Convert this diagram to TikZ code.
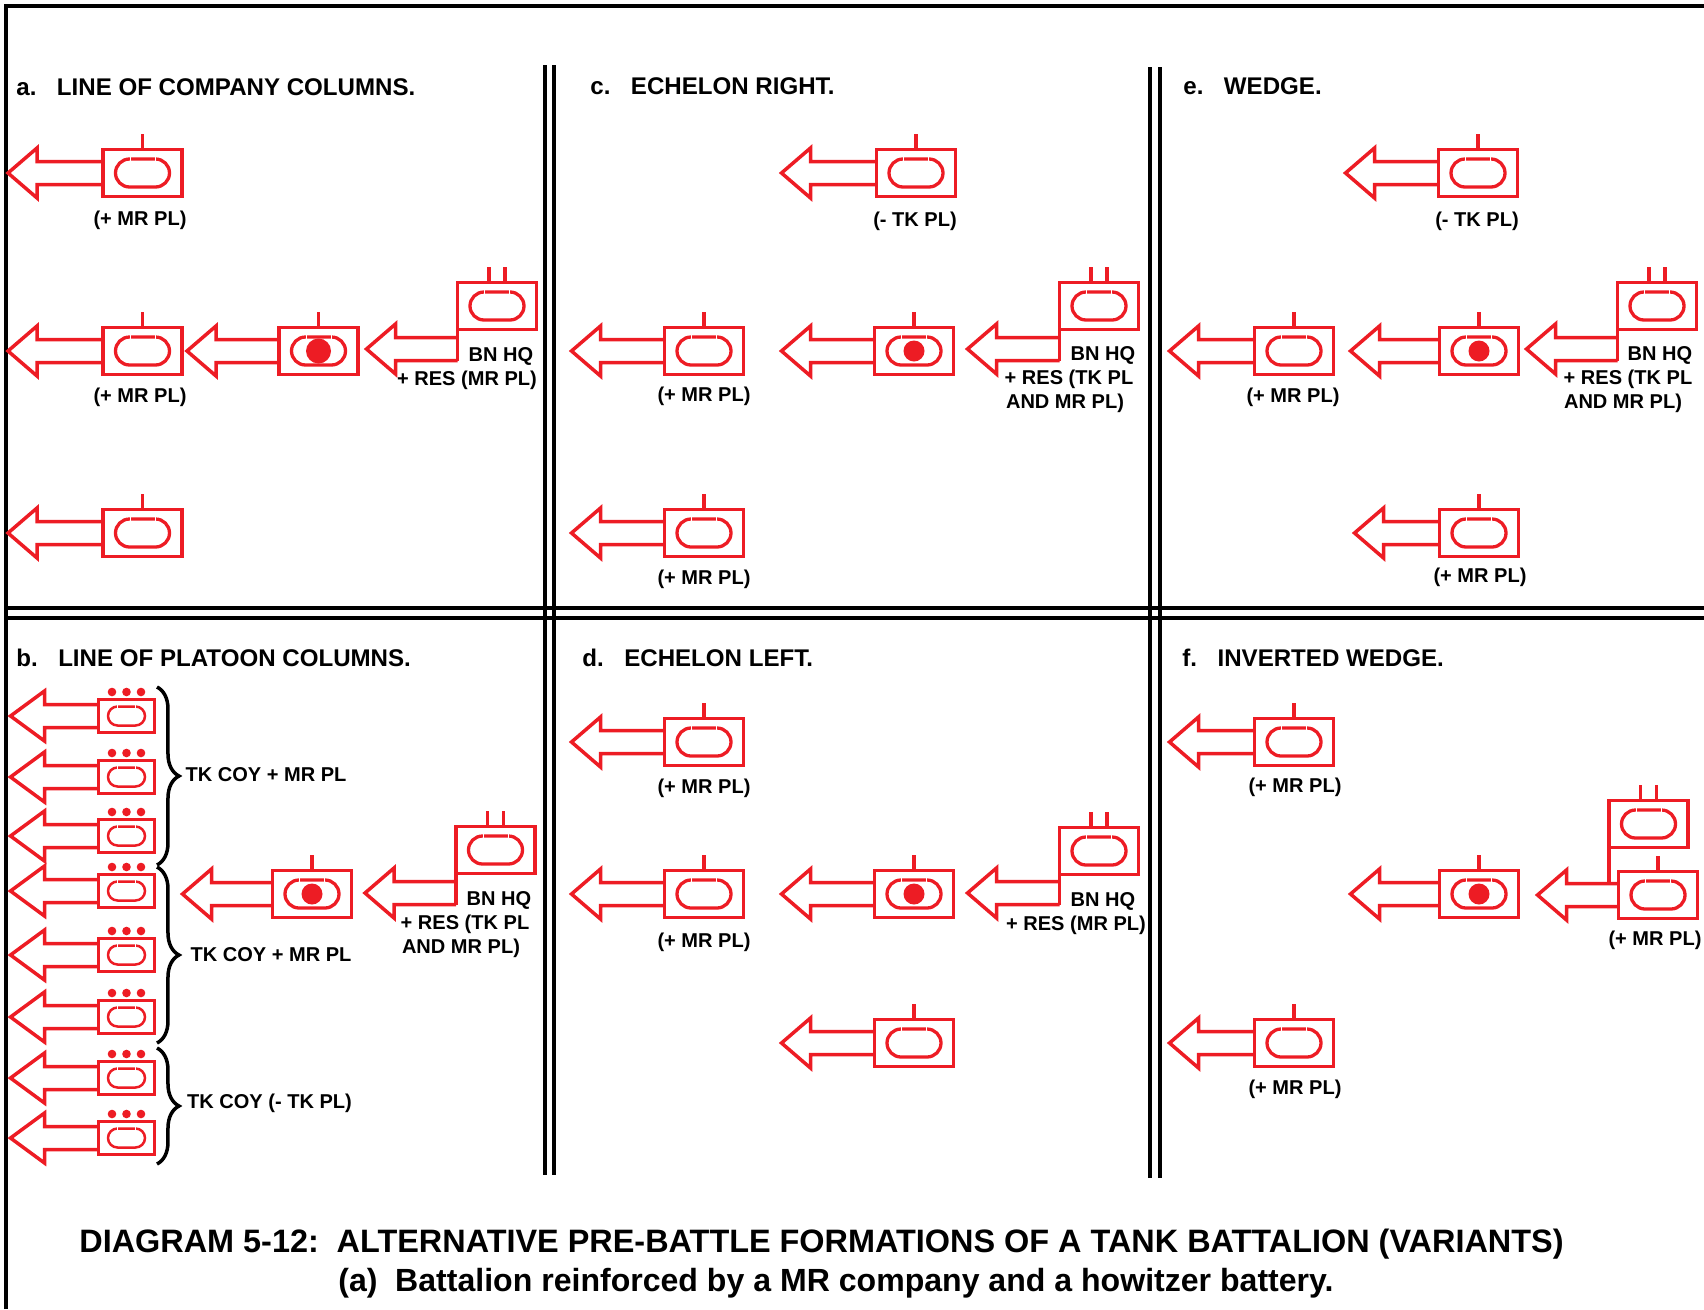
\documentclass[tikz,border=0pt]{standalone}
\usepackage{xcolor}
\usepackage{fontspec}
\setmainfont{Liberation Sans}
\usetikzlibrary{calc,decorations.pathreplacing}
\definecolor{tankred}{RGB}{237,28,36}
\newcommand{\lblfont}{\fontsize{11.4}{14.4}\selectfont\bfseries}
\newcommand{\headfont}{\fontsize{13.72}{16}\selectfont\bfseries}
\newcommand{\capfont}{\fontsize{18.45}{22}\selectfont\bfseries}
\newcommand{\capfontb}{\fontsize{18.25}{22}\selectfont\bfseries}
\newcommand{\advarrow}[3][29]{\draw[advline] ($(#2)+(0,-11.5)$) -- ++(-#3+#1,0) -- ++(0,-13.5) -- ++(-#1,25) -- ++(#1,25) -- ++(0,-13.5) -- ++(#3-#1,0);}
\tikzset{
  framerule/.style={draw=black, line width=0.08cm},
  advline/.style={draw=tankred, line width=0.07cm, miter limit=10},
  tankbox/.style={draw=tankred, line width=0.072cm, minimum width=1.58cm, minimum height=0.94cm, inner sep=0pt, outer sep=0pt},
  smallbox/.style={draw=tankred, line width=0.05cm, minimum width=1.12cm, minimum height=0.66cm, inner sep=0pt, outer sep=0pt},
  tickline/.style={draw=tankred, line width=0.062cm},
  lbl/.style={font=\lblfont, align=center, inner sep=0pt},
  headlbl/.style={font=\headfont, anchor=west, inner sep=0pt},
  capline/.style={font=\capfont, inner sep=0pt},
  bracket/.style={draw=black, line width=0.07cm, decorate, decoration={brace, amplitude=0.44cm}},
  ovalmark/.pic={
    \draw[tankred, line width=0.066cm, rounded corners=0.28cm] (-27,-14) rectangle (27,14);
    \draw[white, line width=0.01cm] (-12.5,-16) -- (-12.5,-12) (12.5,-16) -- (12.5,-12);
  },
  smalloval/.pic={
    \draw[tankred, line width=0.05cm, rounded corners=0.19cm] (-18.5,-9.5) rectangle (18.5,9.5);
    \draw[white, line width=0.008cm] (-9,-11) -- (-9,-8) (9,-11) -- (9,-8);
    \fill[tankred] (-14.5,-24) circle (4.3) (0,-24) circle (4.3) (14.5,-24) circle (4.3);
  }
}
\begin{document}
\begin{tikzpicture}[x=0.02cm, y=-0.02cm]
\useasboundingbox (0,0) rectangle (1704,1309);
\draw[framerule] (6,1309) -- (6,6) -- (1704,6);
\draw[framerule] (5,608) -- (1704,608);
\draw[framerule] (5,618) -- (1704,618);
\draw[framerule] (545,65) -- (545,1175);
\draw[framerule] (554,65) -- (554,1175);
\draw[framerule] (1150,67) -- (1150,1178);
\draw[framerule] (1160,67) -- (1160,1178);
% a
\node[headlbl] (heada) at (16,87) {a.\hspace{0.85em}LINE OF COMPANY COLUMNS.};
\node[tankbox] (a1) at (142.5,173) {};
\node[tankbox] (a2) at (142.5,351) {};
\node[tankbox] (a3) at (318.5,351) {};
\node[tankbox] (a4) at (497,306) {};
\node[tankbox] (a5) at (142.5,533) {};
\foreach \t in {a1,a2,a3,a4,a5} {\pic at (\t) {ovalmark};}
\foreach \t in {a1,a2,a3,a5} {\draw[tickline] (\t.north) -- ++(0,-16);}
\draw[tickline] ($(a4.north)+(-8,0)$) -- ++(0,-16);
\draw[tickline] ($(a4.north)+(8,0)$) -- ++(0,-16);
\fill[tankred] (a3) circle (12.5);
\coordinate (a4tail) at ($(a4.west)+(0,43)$);
\advarrow{a1.west}{95}
\advarrow{a2.west}{95}
\advarrow{a3.west}{92}
\advarrow{a4tail}{91}
\advarrow{a5.west}{95}
\draw[advline] (a4.south west) -- ($(a4tail)+(0,11.5)$);
\node[lbl] (a1note) at (140,220) {(+ MR PL)};
\node[lbl] (a2note) at (140,397) {(+ MR PL)};
\node[lbl] (a4note) at (501,356) {BN HQ};
\node[lbl] (a4res) at (467,380) {+ RES (MR PL)};
% c
\node[headlbl] (headc) at (590,86) {c.\hspace{0.85em}ECHELON RIGHT.};
\node[tankbox] (c1) at (916,173) {};
\node[tankbox] (c2) at (704,351) {};
\node[tankbox] (c3) at (914,351) {};
\node[tankbox] (c4) at (1099,306) {};
\node[tankbox] (c5) at (704,533) {};
\foreach \t in {c1,c2,c3,c4,c5} {\pic at (\t) {ovalmark};}
\foreach \t in {c1,c2,c3,c5} {\draw[tickline] (\t.north) -- ++(0,-16);}
\draw[tickline] ($(c4.north)+(-8,0)$) -- ++(0,-16);
\draw[tickline] ($(c4.north)+(8,0)$) -- ++(0,-16);
\fill[tankred] (c3) circle (10.5);
\coordinate (c4tail) at ($(c4.west)+(0,43)$);
\advarrow{c1.west}{95}
\advarrow{c2.west}{93}
\advarrow{c3.west}{93}
\advarrow{c4tail}{92}
\advarrow{c5.west}{93}
\draw[advline] (c4.south west) -- ($(c4tail)+(0,11.5)$);
\node[lbl] (c1note) at (915,221) {(- TK PL)};
\node[lbl] (c2note) at (704,396) {(+ MR PL)};
\node[lbl] (c5note) at (704,579) {(+ MR PL)};
\node[lbl] (c4note) at (1103,355) {BN HQ};
\node[lbl] (c4res) at (1069,379) {+ RES (TK PL};
\node[lbl] (c4and) at (1065,403) {AND MR PL)};
% e
\node[headlbl] (heade) at (1183,86) {e.\hspace{0.85em}WEDGE.};
\node[tankbox] (e1) at (1478,173) {};
\node[tankbox] (e2) at (1294,351) {};
\node[tankbox] (e3) at (1479,351) {};
\node[tankbox] (e4) at (1657,306) {};
\node[tankbox] (e5) at (1479,533) {};
\foreach \t in {e1,e2,e3,e4,e5} {\pic at (\t) {ovalmark};}
\foreach \t in {e1,e2,e3,e5} {\draw[tickline] (\t.north) -- ++(0,-16);}
\draw[tickline] ($(e4.north)+(-8,0)$) -- ++(0,-16);
\draw[tickline] ($(e4.north)+(8,0)$) -- ++(0,-16);
\fill[tankred] (e3) circle (10.5);
\coordinate (e4tail) at ($(e4.west)+(0,43)$);
\advarrow{e1.west}{93}
\advarrow{e2.west}{85}
\advarrow{e3.west}{89}
\advarrow{e4tail}{91}
\advarrow{e5.west}{85}
\draw[advline] (e4.south west) -- ($(e4tail)+(0,11.5)$);
\node[lbl] (e1note) at (1477,221) {(- TK PL)};
\node[lbl] (e2note) at (1293,397) {(+ MR PL)};
\node[lbl] (e5note) at (1480,577) {(+ MR PL)};
\node[lbl] (e4note) at (1660,355) {BN HQ};
\node[lbl] (e4res) at (1628,379) {+ RES (TK PL};
\node[lbl] (e4and) at (1623,403) {AND MR PL)};
% b
\node[headlbl] (headb) at (16,658) {b.\hspace{0.85em}LINE OF PLATOON COLUMNS.};
\foreach \idx/\ypos in {1/716,2/777,3/836,4/891,5/955,6/1017,7/1078,8/1138} {
  \node[smallbox] (b\idx) at (126.5,\ypos) {};
  \pic at (b\idx) {smalloval};
  \advarrow[34]{b\idx.west}{88}
}
\draw[bracket] (157,687) -- (157,865);
\draw[bracket] (157,867) -- (157,1043);
\draw[bracket] (157,1048) -- (157,1164);
\node[lbl] (bcoya) at (266,775) {TK COY + MR PL};
\node[lbl] (bcoyb) at (271,955) {TK COY + MR PL};
\node[lbl] (bcoyc) at (269.5,1103) {TK COY (- TK PL)};
\node[tankbox] (b9) at (312,894) {};
\node[tankbox] (b10) at (495.5,850) {};
\pic at (b9) {ovalmark};
\pic at (b10) {ovalmark};
\draw[tickline] (b9.north) -- ++(0,-16);
\draw[tickline] ($(b10.north)+(-8,0)$) -- ++(0,-16);
\draw[tickline] ($(b10.north)+(8,0)$) -- ++(0,-16);
\fill[tankred] (b9) circle (10.5);
\coordinate (b10tail) at ($(b10.west)+(0,43)$);
\advarrow{b9.west}{90}
\advarrow{b10tail}{91}
\draw[advline] (b10.south west) -- ($(b10tail)+(0,11.5)$);
\node[lbl] (b10note) at (499,900) {BN HQ};
\node[lbl] (b10res) at (465,924) {+ RES (TK PL};
\node[lbl] (b10and) at (461,948) {AND MR PL)};
% d
\node[headlbl] (headd) at (582,658) {d.\hspace{0.85em}ECHELON LEFT.};
\node[tankbox] (d1) at (704,742) {};
\node[tankbox] (d2) at (704,894) {};
\node[tankbox] (d3) at (914,894) {};
\node[tankbox] (d4) at (1099,851) {};
\node[tankbox] (d5) at (914,1043) {};
\foreach \t in {d1,d2,d3,d4,d5} {\pic at (\t) {ovalmark};}
\foreach \t in {d1,d2,d3,d5} {\draw[tickline] (\t.north) -- ++(0,-16);}
\draw[tickline] ($(d4.north)+(-8,0)$) -- ++(0,-16);
\draw[tickline] ($(d4.north)+(8,0)$) -- ++(0,-16);
\fill[tankred] (d3) circle (10.5);
\coordinate (d4tail) at ($(d4.west)+(0,42)$);
\advarrow{d1.west}{93}
\advarrow{d2.west}{93}
\advarrow{d3.west}{93}
\advarrow{d4tail}{92}
\advarrow{d5.west}{93}
\draw[advline] (d4.south west) -- ($(d4tail)+(0,11.5)$);
\node[lbl] (d1note) at (704,788) {(+ MR PL)};
\node[lbl] (d2note) at (704,942) {(+ MR PL)};
\node[lbl] (d4note) at (1103,901) {BN HQ};
\node[lbl] (d4res) at (1076,925) {+ RES (MR PL)};
% f
\node[headlbl] (headf) at (1182,658) {f.\hspace{0.85em}INVERTED WEDGE.};
\node[tankbox] (f1) at (1294,742) {};
\node[tankbox] (f2) at (1479,894) {};
\node[tankbox] (f3) at (1648.5,824) {};
\node[tankbox] (f4) at (1658,895) {};
\node[tankbox] (f5) at (1294,1043) {};
\foreach \t in {f1,f2,f3,f4,f5} {\pic at (\t) {ovalmark};}
\foreach \t in {f1,f2,f4,f5} {\draw[tickline] (\t.north) -- ++(0,-16);}
\draw[tickline] ($(f3.north)+(-8,0)$) -- ++(0,-16);
\draw[tickline] ($(f3.north)+(8,0)$) -- ++(0,-16);
\fill[tankred] (f2) circle (10.5);
\coordinate (f4join) at ($(f4.west)+(0,-11.5)$);
\advarrow{f1.west}{85}
\advarrow{f2.west}{89}
\advarrow{f4.west}{81}
\advarrow{f5.west}{85}
\draw[advline] (f3.south west) -- (f3.south west |- f4join);
\node[lbl] (f1note) at (1295,787) {(+ MR PL)};
\node[lbl] (f4note) at (1655,940) {(+ MR PL)};
\node[lbl] (f5note) at (1295,1089) {(+ MR PL)};
% caption
\node[capline] (capa) at (821.5,1244) {DIAGRAM 5-12:\hspace{0.55em}ALTERNATIVE PRE-BATTLE FORMATIONS OF A TANK BATTALION (VARIANTS)};
\node[capline, font=\capfontb] (capb) at (836,1283) {(a)\hspace{0.55em}Battalion reinforced by a MR company and a howitzer battery.};
\end{tikzpicture}
\end{document}
